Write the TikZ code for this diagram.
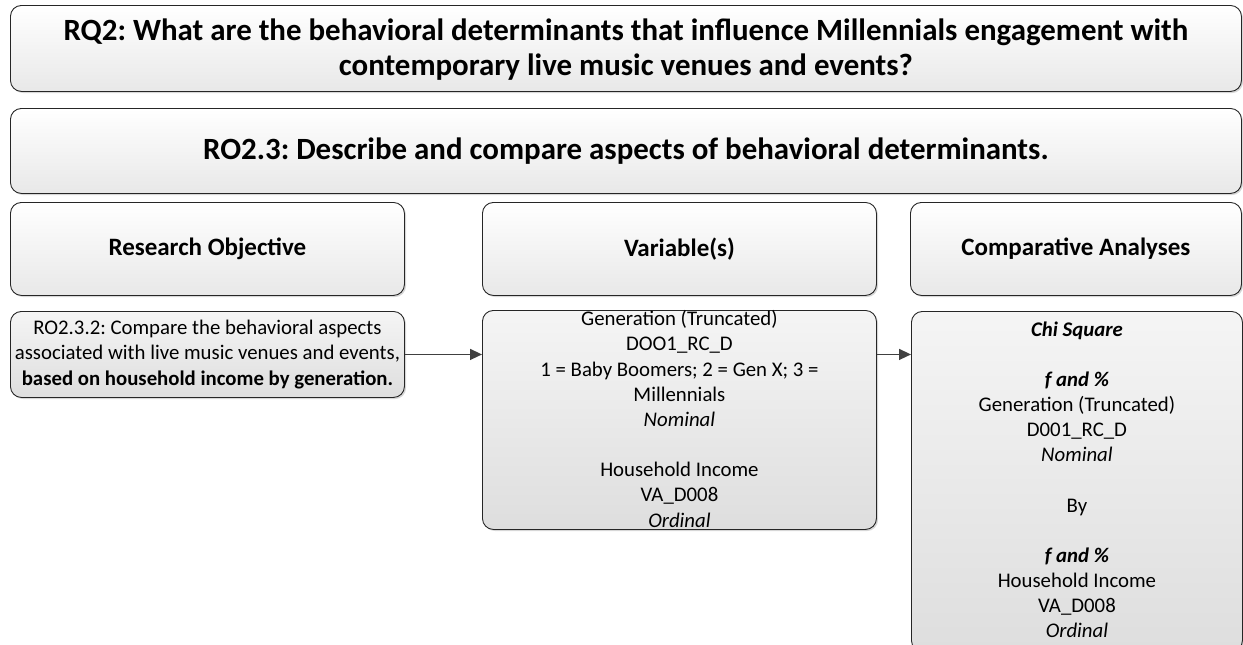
\documentclass[tikz,border=0pt]{standalone}
\usepackage{fontspec}
\setmainfont{Carlito}
\frenchspacing
\usetikzlibrary{shadows,arrows.meta}
\begin{document}
\begin{tikzpicture}[x=1pt,y=-1pt,
  panel/.style={draw=black!85, line width=0.9pt, rounded corners=11pt,
    anchor=north west, inner sep=0pt,
    drop shadow={shadow xshift=1.6pt,shadow yshift=-1.6pt,opacity=0.35,fill=black!45}},
  headpanel/.style={panel, top color=white, bottom color=black!9},
  bodypanel/.style={panel, top color=black!4, bottom color=black!13},
  titletext/.style={align=center, font=\fontsize{30.9}{35}\selectfont\bfseries},
  headtext/.style={align=center, font=\fontsize{25}{29}\selectfont\bfseries},
  bodytext/.style={align=center, font=\fontsize{20.8}{25.2}\selectfont},
  conn/.style={draw=black!75, line width=1.4pt, -{Triangle[length=12pt,width=11pt]}}
]
\useasboundingbox (0,0) rectangle (1243,645);
\clip (0,0) rectangle (1243,645);

% question and objective banners
\node[headpanel, minimum width=1231pt, minimum height=86pt] (rq) at (10,5) {};
\node[titletext] (rqt) at ([yshift=-1pt]rq.center)
  {RQ2: What are the behavioral determinants that influence Millennials engagement with\\
   contemporary live music venues and events?};
\node[headpanel, minimum width=1231pt, minimum height=85pt] (ro) at (10,108) {};
\node[titletext] (rot) at (ro.center)
  {RO2.3: Describe and compare aspects of behavioral determinants.};

% column headings
\node[headpanel, minimum width=394pt, minimum height=93pt] (h1) at (10,202) {};
\node[headtext] (h1t) at (h1.center) {Research Objective};
\node[headpanel, minimum width=394pt, minimum height=93pt] (h2) at (482,202) {};
\node[headtext] (h2t) at (h2.center) {Variable(s)};
\node[headpanel, minimum width=331pt, minimum height=93pt] (h3) at (910,202) {};
\node[headtext] (h3t) at (h3.center) {Comparative Analyses};

% content boxes
\node[bodypanel, minimum width=394pt, minimum height=86pt] (obj) at (10,311) {};
\node[bodytext] (objt) at (obj.center)
  {RO2.3.2: Compare the behavioral aspects\\
   associated with live music venues and events,\\
   \textbf{based on household income by generation.}};

\node[bodypanel, minimum width=394pt, minimum height=219pt] (var) at (482,310) {};
\node[bodytext] (vart) at ([yshift=1pt]var.center)
  {Generation (Truncated)\\
   DOO1\_RC\_D\\
   1 = Baby Boomers; 2 = Gen X; 3 =\\
   Millennials\\
   \textit{Nominal}\\[25pt]
   Household Income\\
   VA\_D008\\
   \textit{Ordinal}};

\node[bodypanel, minimum width=331pt, minimum height=340pt] (comp) at (911,311) {};
\node[bodytext, anchor=north] (compt) at ([yshift=-7pt]comp.north)
  {\textbf{\textit{Chi Square}}\\[25pt]
   \textbf{\textit{f and \%}}\\
   Generation (Truncated)\\
   D001\_RC\_D\\
   \textit{Nominal}\\[25pt]
   By\\[25pt]
   \textbf{\textit{f and \%}}\\
   Household Income\\
   VA\_D008\\
   \textit{Ordinal}};

% connectors
\draw[conn] (obj.east) -- (obj.east -| var.west);
\draw[conn] (var.east |- obj.east) -- (comp.west |- obj.east);
\end{tikzpicture}
\end{document}
